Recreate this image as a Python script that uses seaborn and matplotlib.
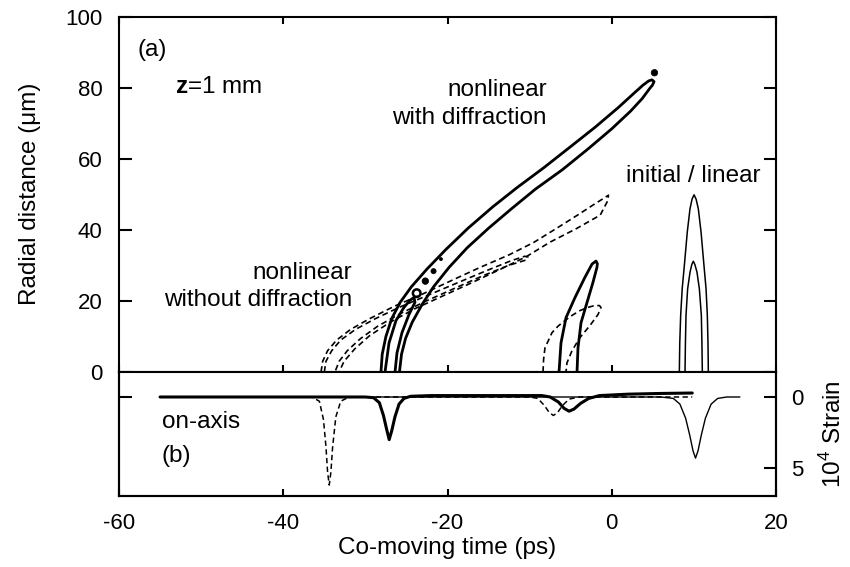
import matplotlib
matplotlib.use("Agg")
import matplotlib.pyplot as plt
import seaborn as sns

# ---------------- panel (a): contours in (co-moving time, radial distance) ----------------
# initial / linear pulse, two contour levels (thin solid)
lin_outer_t = [8.23, 8.28, 8.39, 8.58, 8.84, 9.20, 9.53, 9.78, 10.02, 10.27, 10.54, 10.87, 11.23, 11.48, 11.64, 11.72, 11.76]
lin_outer_r = [0, 8, 15.9, 23.5, 30, 39.5, 46, 48.7, 49.9, 48.7, 46, 39.5, 30, 23.5, 15.9, 8, 0]
lin_inner_t = [8.92, 8.97, 9.04, 9.24, 9.53, 9.75, 9.93, 10.12, 10.38, 10.67, 10.91, 10.98, 11.03]
lin_inner_r = [0, 8, 15.9, 23.4, 28.1, 30.3, 31.2, 30.3, 28.1, 23.4, 15.9, 8, 0]

# nonlinear with diffraction (bold solid): long band, inner level, and small islands
diff_band_t = [-28.1, -27.95, -27.5, -26.8, -25.8, -24.4, -22.5, -20.2, -17.5, -14.5, -11.5, -8.3,
               -5.0, -2.0, 0.8, 2.6, 3.8, 4.5, 4.9, 5.15, 4.95,
               4.6, 3.7, 2.3, 0.0, -2.8, -6.0, -9.3, -12.2, -15.0, -17.6, -19.8, -21.7, -23.1,
               -24.3, -25.1, -25.6, -25.85]
diff_band_r = [0, 5, 10, 15, 19.5, 24, 29, 34.5, 40.5, 46.5, 52, 57.5,
               63.5, 69, 74.5, 78.3, 80.8, 82.0, 82.3, 81.8, 80.8,
               79.8, 77.0, 73.5, 68.5, 63, 57, 51.5, 46, 40.5, 35, 29.5, 24, 19,
               14, 9.5, 5, 0]
diff_core_t = [-27.61, -27.12, -26.27, -25.30, -24.57, -24.08, -23.96, -24.69, -25.54, -26.15, -26.39]
diff_core_r = [0, 8.2, 14.5, 18.2, 20.2, 21.0, 19.6, 16.2, 11.1, 5.4, 0]
island_t = [-23.75, -22.7, -21.7, -20.8, 5.2]
island_r = [22.2, 25.6, 28.4, 31.8, 84.3]

diff_tail_t = [-6.42, -6.18, -5.57, -4.47, -3.26, -2.40, -1.92, -1.75, -1.80, -2.28, -3.01, -3.74, -4.11, -4.23]
diff_tail_r = [0, 8.2, 15.3, 21.0, 26.7, 30.4, 31.25, 30.5, 29.5, 25.3, 19.6, 13.9, 6.8, 0]

# nonlinear without diffraction (dashed): two nested levels and a trailing lobe
nd_outer_t = [-35.4, -35.2, -34.6, -33.5, -31.8, -29.5, -26.5, -23.0, -19.3, -16.0, -12.5, -9.5,
              -6.7, -4.3, -2.3, -0.8, -0.4,
              -0.5, -1.4, -4.3, -7.5, -10.4, -13.5, -17.0, -20.5, -24.0, -27.0, -29.5, -31.3,
              -32.6, -33.2]
nd_outer_r = [0, 3, 6, 9, 12, 15, 18.5, 22, 26, 29.5, 33, 36.5,
              40.5, 44, 47, 49.2, 49.8,
              48.2, 44.2, 40.4, 36.6, 32.5, 29, 25.2, 21.5, 17.8, 14, 10.2, 6.5,
              3, 0]
nd_inner_t = [-35.0, -34.8, -34.1, -33.0, -31.2, -28.8, -25.8, -22.3, -18.6, -15.2, -12.3, -10.6, -10.2,
              -10.5, -12.6, -15.8, -19.2, -22.6, -25.7, -28.5, -30.6, -32.2, -33.2, -33.7]
nd_inner_r = [0, 3, 6, 9, 12, 15, 18.3, 21.7, 25.3, 28.6, 31.3, 32.6, 32.4,
              31.5, 30.0, 27.0, 23.5, 20.0, 16.5, 12.9, 9.4, 6.0, 3, 0]
nd_tail_t = [-8.37, -8.3, -8.13, -7.27, -6.5, -5.69, -4.8, -3.87, -2.9, -2.04, -1.5, -1.31,
             -1.67, -2.65, -3.87, -4.84, -5.45, -5.57]
nd_tail_r = [0, 3.5, 6.8, 11.1, 13.0, 14.5, 16.0, 17.3, 18.2, 18.75, 18.7, 18.2,
             16.2, 13.1, 9.7, 6.0, 2.6, 0]

# ---------------- panel (b): on-axis strain (10^4 x strain, drawn downward) ----------------
strain_lin_t = [-55, 6.0, 7.5, 8.3, 9.0, 9.5, 9.9, 10.2, 10.5, 10.9, 11.4, 12.1, 12.9, 14.0, 15.6]
strain_lin_s = [0, 0, 0.1, 0.5, 1.5, 2.7, 3.8, 4.3, 3.8, 2.7, 1.5, 0.5, 0.1, 0, 0]
strain_diff_t = [-55, -30, -29.0, -28.3, -27.8, -27.4, -27.1, -26.8, -26.4, -25.9, -25.3, -24.5, -22,
                 -12, -8.5, -7.5, -6.5, -5.8, -5.2, -4.6, -3.8, -2.8, -1.5, 2, 6, 9.8]
strain_diff_s = [0, 0, 0.05, 0.4, 1.3, 2.3, 3.0, 2.4, 1.4, 0.5, 0.1, -0.05, -0.1,
                 -0.1, -0.1, 0.0, 0.35, 0.8, 1.0, 0.85, 0.45, 0.1, -0.1, -0.2, -0.25, -0.28]
strain_nodiff_t = [-55, -36.5, -35.6, -35.1, -34.8, -34.6, -34.4, -34.2, -34.0, -33.6, -33.0, -32,
                   -10, -9.0, -8.2, -7.6, -7.1, -6.6, -6.0, -5.2, -4, 0, 9.8]
strain_nodiff_s = [0, 0, 0.3, 1.6, 3.5, 5.3, 6.2, 5.3, 3.6, 1.4, 0.3, 0,
                   0, 0.1, 0.6, 1.1, 1.3, 1.1, 0.6, 0.15, 0, 0, 0]

x_ticks = [-60, -40, -20, 0, 20]
r_ticks = [0, 20, 40, 60, 80, 100]
s_ticks = [0, 5]

TICK_FS = 16
TEXT_FS = 17.5

sns.set_theme(style="ticks")
plt.rcParams.update({
    "font.family": ["Liberation Sans", "DejaVu Sans"],
    "font.size": TEXT_FS,
    "axes.unicode_minus": False,
    "mathtext.fontset": "custom",
    "mathtext.rm": "Liberation Sans",
    "mathtext.bf": "Liberation Sans:bold",
    "axes.linewidth": 1.5,
    "axes.edgecolor": "black",
    "text.color": "black",
    "axes.labelcolor": "black",
    "xtick.color": "black",
    "ytick.color": "black",
})

fig = plt.figure(figsize=(8.5, 5.67), dpi=100)
W, H = 850, 567
ax1 = fig.add_axes([119 / W, 1 - 372 / H, 657 / W, 355 / H])
ax2 = fig.add_axes([119 / W, 1 - 496 / H, 657 / W, 124 / H])

DASH = (0, (3.5, 2.2))


def curve(ax, t, y, lw, ls="-"):
    sns.lineplot(x=t, y=y, ax=ax, sort=False, estimator=None, color="black",
                 linewidth=lw, linestyle=ls)


# panel (a)
curve(ax1, lin_outer_t, lin_outer_r, 1.1)
curve(ax1, lin_inner_t, lin_inner_r, 1.1)
curve(ax1, nd_outer_t, nd_outer_r, 1.2, DASH)
curve(ax1, nd_inner_t, nd_inner_r, 1.2, DASH)
curve(ax1, nd_tail_t, nd_tail_r, 1.2, DASH)
curve(ax1, diff_band_t, diff_band_r, 2.0)
curve(ax1, diff_core_t, diff_core_r, 2.0)
curve(ax1, diff_tail_t, diff_tail_r, 2.0)
sns.scatterplot(x=island_t[:1], y=island_r[:1], ax=ax1, marker="o", s=30,
                facecolor="none", edgecolor="black", linewidth=1.8)
sns.scatterplot(x=island_t[1:], y=island_r[1:], ax=ax1, marker="o", s=[22, 14, 5, 22],
                color="black", edgecolor="black", linewidth=0.5)

ax1.set_xlim(-60, 20)
ax1.set_ylim(0, 100)
ax1.set_xticks(x_ticks)
ax1.set_yticks(r_ticks)
ax1.tick_params(axis="x", direction="in", top=True, bottom=True, labelbottom=False,
                length=5, width=1.5)
ax1.tick_params(axis="y", direction="in", left=True, right=True, length=9, width=1.5,
                pad=12, labelsize=TICK_FS)
ax1.set_xlabel("")
ax1.set_ylabel("")

ax1.text(-57.7, 90.7, "(a)", ha="left", va="center")
ax1.text(-53.2, 80.3, r"$\mathbf{z}$=1 mm", ha="left", va="center")
ax1.text(-7.9, 75.6, "nonlinear\nwith diffraction", ha="right", va="center",
         multialignment="right", linespacing=1.35)
ax1.text(1.74, 55.1, "initial / linear", ha="left", va="center")
ax1.text(-31.6, 24.0, "nonlinear\nwithout diffraction", ha="right", va="center",
         multialignment="right", linespacing=1.3)

# panel (b)
curve(ax2, strain_lin_t, strain_lin_s, 1.0)
curve(ax2, strain_nodiff_t, strain_nodiff_s, 1.1, DASH)
curve(ax2, strain_diff_t, strain_diff_s, 2.2)

ax2.set_xlim(-60, 20)
ax2.set_ylim(6.97, -1.76)
ax2.set_xticks(x_ticks)
ax2.set_yticks([0])
ax2.tick_params(axis="x", direction="in", top=False, bottom=True, length=5, width=1.5,
                pad=12, labelsize=TICK_FS)
ax2.tick_params(axis="y", direction="in", left=True, right=False, labelleft=False,
                length=9, width=1.5)
ax2.set_xlabel("")
ax2.set_ylabel("")
ax2.spines["top"].set_visible(False)

ax2r = ax2.twinx()
ax2r.set_ylim(6.97, -1.76)
ax2r.set_yticks(s_ticks)
ax2r.tick_params(axis="y", direction="in", length=9, width=1.5, pad=11, labelsize=TICK_FS)
for sp in ax2r.spines.values():
    sp.set_linewidth(1.5)

ax2.text(-54.8, 1.76, "on-axis", ha="left", va="center")
ax2.text(-54.8, 4.15, "(b)", ha="left", va="center")

fig.text(30 / W, 1 - 194 / H, "Radial distance (\u03bcm)", rotation=90, ha="center", va="center")
fig.text(447 / W, 1 - 548 / H, "Co-moving time (ps)", ha="center", va="center")
fig.text(833 / W, 1 - 434 / H, r"10$^4$ Strain", rotation=90, ha="center", va="center")

fig.savefig("out.png", dpi=100)
